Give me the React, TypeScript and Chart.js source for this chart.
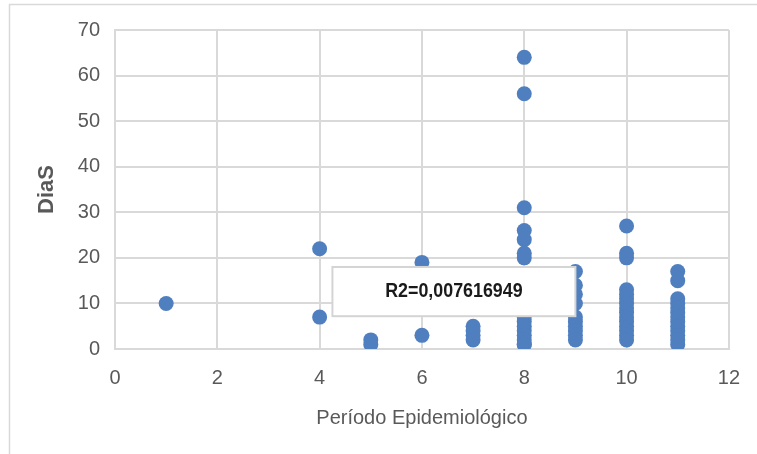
import React, { useEffect, useRef } from "react";
import { Chart, registerables } from "chart.js";

Chart.register(...registerables);

// Período Epidemiológico (x) and DiaS (y), paired by index
const periodo: number[] = [
  1,
  4, 4,
  5, 5,
  6, 6,
  7, 7, 7, 7,
  8, 8, 8, 8, 8, 8, 8, 8, 8, 8, 8, 8, 8, 8, 8, 8, 8,
  9, 9, 9, 9, 9, 9, 9, 9, 9, 9,
  10, 10, 10, 10, 10, 10, 10, 10, 10, 10, 10, 10, 10, 10, 10,
  11, 11, 11, 11, 11, 11, 11, 11, 11, 11, 11, 11, 11,
];
const dias: number[] = [
  10,
  22, 7,
  2, 1,
  19, 3,
  2, 3, 4, 5,
  64, 56, 31, 26, 24, 21, 20, 12, 9, 7, 6, 5, 4, 3, 2, 1, 1,
  17, 14, 12, 10, 7, 6, 5, 4, 3, 2,
  27, 21, 20, 13, 12, 11, 10, 9, 8, 7, 6, 5, 4, 3, 2,
  17, 15, 11, 10, 9, 8, 7, 6, 5, 4, 3, 2, 1,
];
const xTicks: number[] = [0, 2, 4, 6, 8, 10, 12];
const yTicks: number[] = [0, 10, 20, 30, 40, 50, 60, 70];
const r2Label = "R2=0,007616949";
const xTitle = "Período Epidemiológico";
const yTitle = "DiaS";

export default function App() {
  const ref = useRef<HTMLCanvasElement | null>(null);

  useEffect(() => {
    if (!ref.current) return;
    const gridColor = "#d9d9d9";
    const framePlugin = {
      id: "frame",
      beforeDraw(chart: any) {
        const ctx = chart.ctx;
        ctx.save();
        ctx.fillStyle = "#ffffff";
        ctx.fillRect(0, 0, chart.width, chart.height);
        ctx.strokeStyle = "#d9d9d9";
        ctx.lineWidth = 1.5;
        ctx.beginPath();
        ctx.moveTo(9.5, chart.height);
        ctx.lineTo(9.5, 4.5);
        ctx.lineTo(chart.width, 4.5);
        ctx.stroke();
        ctx.restore();
      },
    };
    const labelPlugin = {
      id: "r2label",
      afterDatasetsDraw(chart: any) {
        const { ctx, scales } = chart;
        const x0 = scales.x.getPixelForValue(4.25);
        const x1 = scales.x.getPixelForValue(9.0);
        const y0 = scales.y.getPixelForValue(18.0);
        const y1 = scales.y.getPixelForValue(7.2);
        ctx.save();
        ctx.fillStyle = "#ffffff";
        ctx.fillRect(x0, y0, x1 - x0, y1 - y0);
        ctx.strokeStyle = "#d4d4d4";
        ctx.lineWidth = 2;
        ctx.strokeRect(x0, y0, x1 - x0, y1 - y0);
        ctx.fillStyle = "#1a1a1a";
        ctx.font = "bold 21px 'Liberation Sans', sans-serif";
        ctx.textAlign = "center";
        ctx.textBaseline = "middle";
        ctx.translate((x0 + x1) / 2, (y0 + y1) / 2);
        ctx.scale(0.85, 1);
        ctx.fillText(r2Label, 0, 0);
        ctx.restore();
      },
    };

    const chart = new Chart(ref.current, {
      type: "scatter",
      data: {
        datasets: [
          {
            label: yTitle,
            data: periodo.map((p, i) => ({ x: p, y: dias[i] })),
            backgroundColor: "#4f7fbf",
            borderColor: "#4f7fbf",
            borderWidth: 0,
            pointRadius: 7.5,
            pointHoverRadius: 7.5,
          },
        ],
      },
      options: {
        animation: false,
        responsive: false,
        maintainAspectRatio: false,
        layout: { padding: { left: 0, right: 22, top: 30, bottom: 0 } },
        plugins: {
          legend: { display: false },
          tooltip: { enabled: false },
        },
        scales: {
          x: {
            type: "linear",
            min: 0,
            max: 12,
            afterBuildTicks: (s: any) => {
              s.ticks = xTicks.map((v) => ({ value: v }));
            },
            afterFit: (s: any) => {
              s.height = 105;
            },
            grid: { color: gridColor, lineWidth: 2, drawTicks: false },
            border: { color: gridColor, width: 2 },
            ticks: {
              color: "#595959",
              padding: 17,
              font: { family: "'Liberation Sans', sans-serif", size: 20 },
            },
            title: {
              display: true,
              text: xTitle,
              color: "#595959",
              padding: { top: 0, bottom: 24 },
              font: { family: "'Liberation Sans', sans-serif", size: 20 },
            },
          },
          y: {
            type: "linear",
            min: 0,
            max: 70,
            afterBuildTicks: (s: any) => {
              s.ticks = yTicks.map((v) => ({ value: v }));
            },
            afterFit: (s: any) => {
              s.width = 115;
            },
            grid: { color: gridColor, lineWidth: 2, drawTicks: false },
            border: { color: gridColor, width: 2 },
            ticks: {
              color: "#595959",
              padding: 15,
              font: { family: "'Liberation Sans', sans-serif", size: 20 },
            },
            title: {
              display: true,
              text: yTitle,
              color: "#595959",
              padding: { top: 34, bottom: 0 },
              font: { family: "'Liberation Sans', sans-serif", size: 22, weight: "bold" },
            },
          },
        },
      },
      plugins: [framePlugin, labelPlugin],
    });
    return () => chart.destroy();
  }, []);

  return (
    <div style={{ position: "fixed", left: 0, top: 0, width: 757, height: 454 }}>
      <canvas ref={ref} width={757} height={454} style={{ width: 757, height: 454, display: "block" }} />
    </div>
  );
}
